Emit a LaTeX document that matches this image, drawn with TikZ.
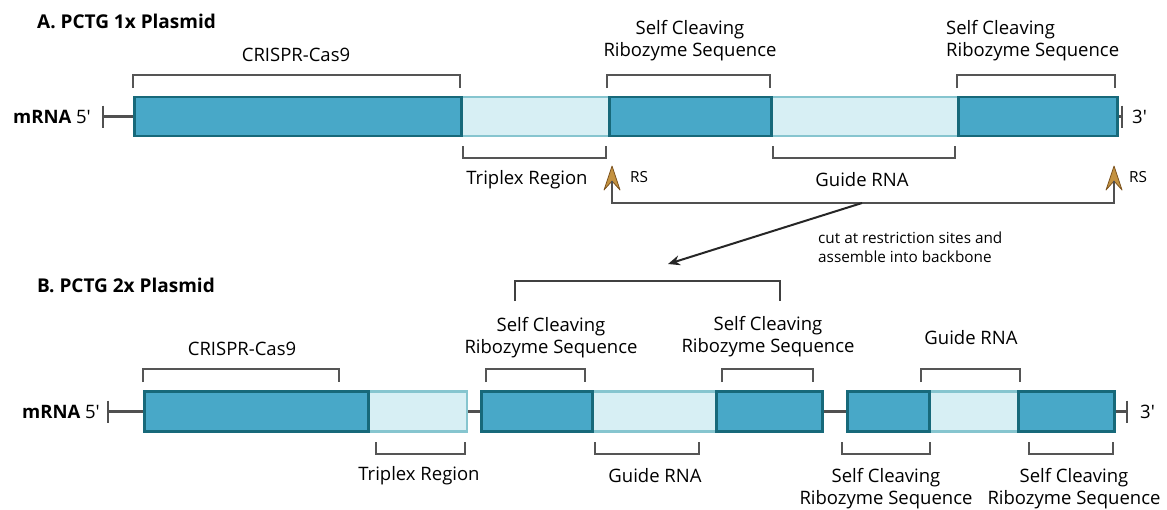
\documentclass[tikz,border=0pt]{standalone}
\usepackage{fontspec}
\setmainfont{Open Sans}
\usetikzlibrary{arrows.meta}

\definecolor{boxfill}{RGB}{72,168,200}
\definecolor{boxedge}{RGB}{23,105,122}
\definecolor{lightfill}{RGB}{215,239,244}
\definecolor{lightedge}{RGB}{134,197,207}
\definecolor{brgray}{RGB}{85,85,85}
\definecolor{bbgray}{RGB}{80,80,80}
\definecolor{rsgold}{RGB}{196,146,64}
\definecolor{rsbrown}{RGB}{125,84,32}

\tikzset{
  segdark/.style={draw=boxedge,fill=boxfill,line width=2.6pt,inner sep=0pt,anchor=west},
  seglight/.style={draw=lightedge,fill=lightfill,line width=2.4pt,inner sep=0pt,anchor=west},
  brace/.style={draw=brgray,line width=1.6pt},
  bb/.style={draw=bbgray,line width=2.6pt},
  lbl/.style={font=\fontsize{18.5}{22}\selectfont,align=center,inner sep=0pt},
  small/.style={font=\fontsize{15.3}{19}\selectfont,align=left,inner sep=0pt},
  ttl/.style={font=\fontsize{19}{22}\selectfont\bfseries,inner sep=0pt,anchor=west},
  rs/.pic={\filldraw[fill=rsgold,draw=rsbrown,line width=0.8pt,line join=round]
    (0,-12) -- (-8,12) -- (0,3) -- (8,12) -- cycle;}
}
\newcommand{\pr}{\textquotesingle}
% bracket opening down / up
\newcommand{\brup}[3]{\draw[brace] (#1,#3+13) |- (#2,#3) -- (#2,#3+13);}
\newcommand{\brdn}[3]{\draw[brace] (#1,#3-12) |- (#2,#3) -- (#2,#3-12);}

\begin{document}
\begin{tikzpicture}[x=1pt,y=-1pt]
  \useasboundingbox (0,0) rectangle (1167,509);

  % A. 1x plasmid
  \node[ttl] (titleA) at (37,21) {A. PCTG 1x Plasmid};
  \node[inner sep=0pt,anchor=east,font=\fontsize{18.5}{22}\selectfont] (mrnaA) at (91,116.5) {\textbf{mRNA} 5\pr};
  \coordinate (endA5) at (103,116.5);
  \coordinate (endA3) at (1122,116.5);
  \draw[bb] ([yshift=11pt]endA5) -- ([yshift=-11pt]endA5);
  \draw[bb] ([yshift=11pt]endA3) -- ([yshift=-11pt]endA3);

  \node[seglight,minimum width=148pt,minimum height=39pt] (tri1) at (460,116.5) {};
  \node[seglight,minimum width=187pt,minimum height=39pt] (gd1) at (770,116.5) {};
  \node[segdark,minimum width=327pt,minimum height=39pt] (cas1) at (133,116.5) {};
  \node[segdark,minimum width=162pt,minimum height=39pt] (scr1) at (608,116.5) {};
  \node[segdark,minimum width=159pt,minimum height=39pt] (scr2) at (957,116.5) {};
  \draw[bb] (endA5) -- (cas1.west);
  \draw[bb] (scr2.east) -- (endA3);
  \node[inner sep=0pt,anchor=west,font=\fontsize{18.5}{22}\selectfont] (threeA) at (1132,116.5) {3\pr};

  \brup{133}{460}{75}
  \brup{607}{770}{75}
  \brup{957}{1115}{75}
  \brdn{463}{606}{158}
  \brdn{773}{955}{158}
  \node[lbl] (lcas1) at (296,55) {CRISPR-Cas9};
  \node[lbl] (lscr1) at (690,41) {Self Cleaving\\Ribozyme Sequence};
  \node[lbl,align=left,anchor=west] (lscr2) at (946,41) {Self Cleaving\\Ribozyme Sequence};
  \node[lbl] (ltri1) at (527,180) {Triplex Region};
  \node[lbl] (lgd1) at (862,180) {Guide RNA};

  % restriction sites
  \pic at (612,178) {rs};
  \pic at (1114,178) {rs};
  \node[small,anchor=west] (rsa) at (630,177) {RS};
  \node[small,anchor=west] (rsb) at (1129,177) {RS};
  \coordinate (rs1) at (612,181);
  \coordinate (rs2) at (1114,181);
  \coordinate (cutfrom) at (862,203);
  \coordinate (cutto) at (668,264);
  \draw[bb,line width=2pt] (rs1) |- (cutfrom) -| (rs2);
  \draw[draw=black!85,line width=2pt,-{Stealth[length=12pt,width=10pt]}] (cutfrom) -- (cutto);
  \node[small,anchor=west] (cuttxt) at (818,247) {cut at restriction sites and\\assemble into backbone};

  % B. 2x plasmid
  \node[ttl] (titleB) at (37,285) {B. PCTG 2x Plasmid};
  \draw[draw=black!75,line width=2.2pt] (515,301) |- (780,281) -- (780,301);
  \node[inner sep=0pt,anchor=east,font=\fontsize{18.5}{22}\selectfont] (mrnaB) at (100,411.5) {\textbf{mRNA} 5\pr};
  \coordinate (endB5) at (108,411.5);
  \coordinate (endB3) at (1127,411.5);
  \draw[bb] ([yshift=11pt]endB5) -- ([yshift=-11pt]endB5);
  \draw[bb] ([yshift=11pt]endB3) -- ([yshift=-11pt]endB3);

  \node[seglight,minimum width=99pt,minimum height=40pt] (tri2) at (367,411.5) {};
  \node[seglight,minimum width=124pt,minimum height=40pt] (gd2) at (591,411.5) {};
  \node[seglight,minimum width=89pt,minimum height=40pt] (gd3) at (928,411.5) {};
  \node[segdark,minimum width=224pt,minimum height=40pt] (cas2) at (143,411.5) {};
  \node[segdark,minimum width=111pt,minimum height=40pt] (scr3) at (480,411.5) {};
  \node[segdark,minimum width=106pt,minimum height=40pt] (scr4) at (715,411.5) {};
  \node[segdark,minimum width=82pt,minimum height=40pt] (scr5) at (846,411.5) {};
  \node[segdark,minimum width=96pt,minimum height=40pt] (scr6) at (1017,411.5) {};
  \draw[bb] (endB5) -- (cas2.west);
  \draw[bb] (tri2.east) -- (scr3.west);
  \draw[bb] (scr4.east) -- (scr5.west);
  \draw[bb] (scr6.east) -- (endB3);
  \node[inner sep=0pt,anchor=west,font=\fontsize{18.5}{22}\selectfont] (threeB) at (1140,411.5) {3\pr};

  \brup{143}{339}{369}
  \brup{486}{585}{369}
  \brup{722}{813}{369}
  \brup{921}{1020}{369}
  \brdn{376}{465}{454}
  \brdn{595}{699}{454}
  \brdn{842}{930}{454}
  \brdn{1029}{1113}{454}
  \node[lbl] (lcas2) at (242,349) {CRISPR-Cas9};
  \node[lbl] (lscr3) at (551,338) {Self Cleaving\\Ribozyme Sequence};
  \node[lbl] (lscr4) at (768,337) {Self Cleaving\\Ribozyme Sequence};
  \node[lbl] (lgd3) at (971,338) {Guide RNA};
  \node[lbl] (ltri2) at (419,476) {Triplex Region};
  \node[lbl] (lgd2) at (655,476) {Guide RNA};
  \node[lbl] (lscr5) at (886,489) {Self Cleaving\\Ribozyme Sequence};
  \node[lbl] (lscr6) at (1074,489) {Self Cleaving\\Ribozyme Sequence};
\end{tikzpicture}
\end{document}
